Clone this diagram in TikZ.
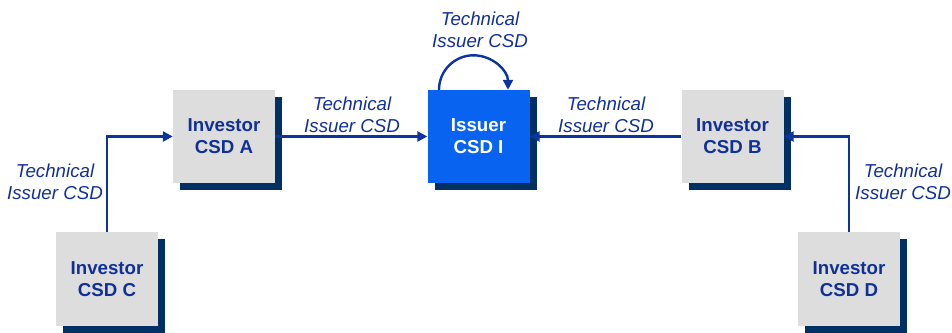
\documentclass[tikz,border=0pt]{standalone}
\usepackage{fontspec}
\setmainfont{Liberation Sans}
\usetikzlibrary{arrows.meta,shadows}
\definecolor{txtblue}{RGB}{16,48,150}
\definecolor{lineblue}{RGB}{12,52,160}
\definecolor{navy}{RGB}{0,48,100}
\definecolor{boxgray}{RGB}{221,221,221}
\definecolor{issuerblue}{RGB}{8,100,240}
\tikzset{
  csdbox/.style={minimum width=102pt, minimum height=93pt, inner sep=0pt, align=center,
    font=\fontsize{18.7}{22}\selectfont\bfseries,
    general shadow={fill=navy, shadow xshift=7pt, shadow yshift=-7pt}},
  invbox/.style={csdbox, fill=boxgray, text=txtblue},
  issbox/.style={csdbox, fill=issuerblue, text=white},
  lbl/.style={align=center, text=txtblue, font=\fontsize{18.7}{22}\selectfont\itshape, inner sep=0pt},
  conn/.style={draw=lineblue, line width=2.4pt, -{Triangle[length=10pt,width=10pt]}}
}
\begin{document}
\begin{tikzpicture}[x=1pt,y=1pt]
\useasboundingbox (0,0) rectangle (952,332);
\node[invbox] (A) at (224,195.5) {Investor\\CSD A};
\node[issbox] (I) at (478.5,195.5) {Issuer\\CSD I};
\node[invbox] (B) at (732.5,195.5) {Investor\\CSD B};
\node[invbox] (C) at (107,53) {Investor\\CSD C};
\node[invbox] (D) at (849,53) {Investor\\CSD D};
\draw[conn] (A.east) -- (I.west);
\draw[conn] (B.west) -- (I.east);
\draw[conn] (C.north) |- (A.west);
\draw[conn] (D.north) |- (B.east);
\draw[conn] ([xshift=-39.5pt]I.north) arc[start angle=180, end angle=0, radius=34.5pt];
\node[lbl] (t1) at (480,302) {Technical\\Issuer CSD};
\node[lbl] (t2) at (352,217) {Technical\\Issuer CSD};
\node[lbl] (t3) at (606,217) {Technical\\Issuer CSD};
\node[lbl] (t4) at (55,150) {Technical\\Issuer CSD};
\node[lbl] (t5) at (903,150) {Technical\\Issuer CSD};
\end{tikzpicture}
\end{document}
